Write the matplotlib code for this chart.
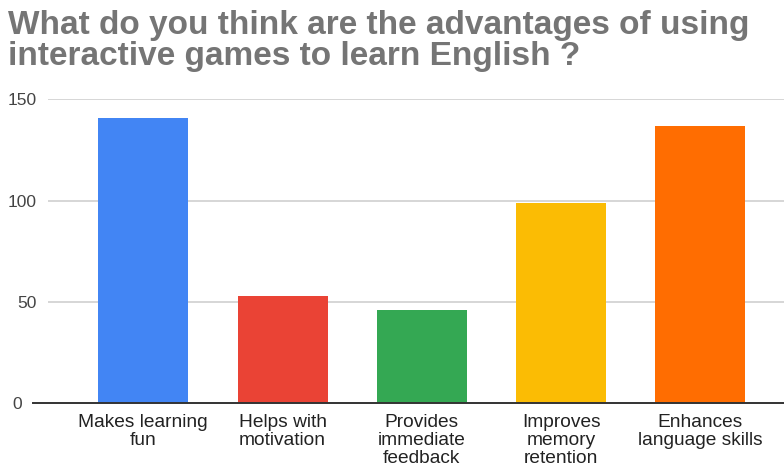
import matplotlib.pyplot as plt
import matplotlib.transforms as mtransforms

# survey answers
categories = ["Makes learning\nfun", "Helps with\nmotivation", "Provides\nimmediate\nfeedback",
              "Improves\nmemory\nretention", "Enhances\nlanguage skills"]
counts = [141, 53, 46, 99, 137]
colors = ["#4285F4", "#EA4335", "#34A853", "#FBBC04", "#FF6D01"]
yticks = [0, 50, 100, 150]

W, H = 784, 469
fig = plt.figure(figsize=(W / 100, H / 100), dpi=100)
plt.rcParams['font.family'] = ['Liberation Sans', 'DejaVu Sans']

left, right, bottom, top = 48, 784, 469 - 403.3, 469 - 99.3
ax = fig.add_axes([left / W, bottom / H, (right - left) / W, (top - bottom) / H])

x = range(len(categories))
ax.bar(x, counts, width=0.646, color=colors, zorder=3)

ax.set_ylim(0, 150)
ax.set_xlim(-0.684, 4.6)

# light grid, darker baseline that runs a bit further left
for v in yticks[1:]:
    ax.axhline(v, color="#cccccc", lw=1.1, zorder=1)
ax.axhline(0, xmin=-15 / (right - left), xmax=1, color="#333333", lw=1.4,
           clip_on=False, zorder=4)

ax.set_yticks(yticks)
ax.set_yticklabels([str(v) for v in yticks])
ax.tick_params(axis="y", length=0, pad=8, labelsize=12.5, labelcolor="#444444")
ax.set_xticks(list(x))
ax.set_xticklabels(categories, fontsize=13.8, color="#222222", linespacing=1.08)
ax.tick_params(axis="x", length=0, pad=8)

# shift the zero label to sit before the extended baseline
shift = mtransforms.ScaledTranslation(-15 / 100, 0, fig.dpi_scale_trans)
zero_lab = ax.get_yticklabels()[0]
zero_lab.set_transform(zero_lab.get_transform() + shift)

for s in ax.spines.values():
    s.set_visible(False)

fig.text(8 / W, 1 - 10 / H,
         "What do you think are the advantages of using\ninteractive games to learn English ?",
         ha="left", va="top", fontsize=24, fontweight="bold", color="#757575",
         linespacing=0.98)

fig.savefig("out.png", dpi=100, facecolor="white")
